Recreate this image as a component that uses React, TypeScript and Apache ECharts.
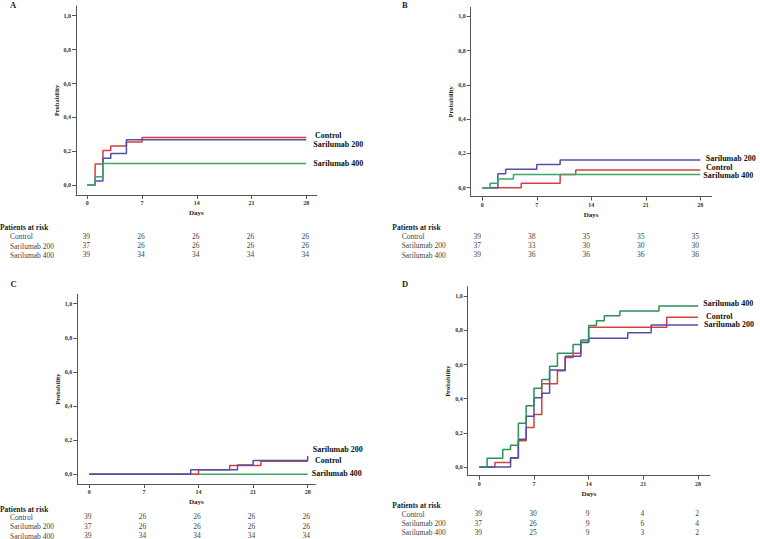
import React, { useEffect, useRef } from "react";
import * as echarts from "echarts";

const FONT = "'Liberation Serif', 'Times New Roman', serif";
const DAY_TICKS = [0, 7, 14, 21, 28];
const PROB_TICKS = [0, 0.2, 0.4, 0.6, 0.8, 1.0];
const GROUPS = ["Control", "Sarilumab 200", "Sarilumab 400"];

// ---- Panel A ----
const A_CONTROL_DAYS = [0, 1, 2, 3, 5, 7, 28];
const A_CONTROL_PROB = [0, 0.125, 0.205, 0.231, 0.256, 0.282, 0.282];
const A_S200_DAYS = [0, 1, 2, 3, 5, 28];
const A_S200_PROB = [0, 0.026, 0.16, 0.187, 0.268, 0.268];
const A_S400_DAYS = [0, 1, 2, 28];
const A_S400_PROB = [0, 0.051, 0.128, 0.128];
const A_RISK_CONTROL = [39, 26, 26, 26, 26];
const A_RISK_S200 = [37, 26, 26, 26, 26];
const A_RISK_S400 = [39, 34, 34, 34, 34];

// ---- Panel B ----
const B_CONTROL_DAYS = [0, 5, 10, 12, 28];
const B_CONTROL_PROB = [0, 0.026, 0.077, 0.103, 0.103];
const B_S200_DAYS = [0, 2, 3, 7, 10, 28];
const B_S200_PROB = [0, 0.081, 0.108, 0.135, 0.162, 0.162];
const B_S400_DAYS = [0, 1, 2, 4, 28];
const B_S400_PROB = [0, 0.026, 0.051, 0.077, 0.077];
const B_RISK_CONTROL = [39, 38, 35, 35, 35];
const B_RISK_S200 = [37, 33, 30, 30, 30];
const B_RISK_S400 = [39, 36, 36, 36, 36];

// ---- Panel C ----
const C_CONTROL_DAYS = [0, 14, 18, 22, 28];
const C_CONTROL_PROB = [0, 0.026, 0.051, 0.077, 0.077];
const C_S200_DAYS = [0, 13, 19, 21, 28];
const C_S200_PROB = [0, 0.027, 0.054, 0.081, 0.108];
const C_S400_DAYS = [0, 28];
const C_S400_PROB = [0, 0];
const C_RISK_CONTROL = [39, 26, 26, 26, 26];
const C_RISK_S200 = [37, 26, 26, 26, 26];
const C_RISK_S400 = [39, 34, 34, 34, 34];

// ---- Panel D ----
const D_CONTROL_DAYS = [0, 2, 4, 5, 6, 7, 8, 10, 11, 12, 13, 14, 24, 28];
const D_CONTROL_PROB = [0, 0.026, 0.051, 0.154, 0.231, 0.308, 0.487, 0.564, 0.641, 0.667, 0.731, 0.818, 0.878, 0.878];
const D_S200_DAYS = [0, 4, 5, 6, 7, 8, 9, 11, 13, 14, 19, 22, 28];
const D_S200_PROB = [0, 0.054, 0.162, 0.297, 0.405, 0.432, 0.568, 0.649, 0.73, 0.754, 0.787, 0.832, 0.832];
const D_S400_DAYS = [0, 1, 3, 4, 5, 6, 7, 8, 9, 10, 12, 13, 14, 15, 16, 18, 23, 28];
const D_S400_PROB = [0, 0.051, 0.103, 0.128, 0.256, 0.359, 0.462, 0.513, 0.59, 0.667, 0.718, 0.744, 0.829, 0.857, 0.886, 0.914, 0.943, 0.943];
const D_RISK_CONTROL = [39, 30, 9, 4, 2];
const D_RISK_S200 = [37, 26, 9, 6, 4];
const D_RISK_S400 = [39, 25, 9, 3, 2];

const RED = "#d4403c";
const BLUE = "#5050a8";
const GREEN = "#3aa86a";

const zip = (a: number[], b: number[]) => a.map((v, i) => [v, b[i]]);

const PANELS = [
  {
    letter: "A", letterX: 14, letterY: 5,
    left: 76, right: 316.7, d0: 87.3, d28: 306.3, top: 6, bottom: 195, y0: 185.3, y1: 15.7,
    nameGapY: 15, numOffset: -0.5,
    tableTop: 236.7, tableBottom: 255.3, patientsX: 0, patientsY: 227.3, rowX: 10,
    curves: [
      { days: A_CONTROL_DAYS, prob: A_CONTROL_PROB, color: RED },
      { days: A_S200_DAYS, prob: A_S200_PROB, color: BLUE },
      { days: A_S400_DAYS, prob: A_S400_PROB, color: GREEN },
    ],
    risk: [A_RISK_CONTROL, A_RISK_S200, A_RISK_S400],
    labels: [
      { text: GROUPS[0], x: 315, y: 135.8 },
      { text: GROUPS[1], x: 313.3, y: 144.8 },
      { text: GROUPS[2], x: 313.3, y: 163.3 },
    ],
  },
  {
    letter: "B", letterX: 406, letterY: 4.5,
    left: 470.7, right: 711.7, d0: 482.3, d28: 700.3, top: 7.3, bottom: 196.5, y0: 187.7, y1: 16.3,
    nameGapY: 16, numOffset: -4.5,
    tableTop: 236.5, tableBottom: 255.3, patientsX: 392.3, patientsY: 227.3, rowX: 401.7,
    curves: [
      { days: B_CONTROL_DAYS, prob: B_CONTROL_PROB, color: RED },
      { days: B_S200_DAYS, prob: B_S200_PROB, color: BLUE },
      { days: B_S400_DAYS, prob: B_S400_PROB, color: GREEN },
    ],
    risk: [B_RISK_CONTROL, B_RISK_S200, B_RISK_S400],
    labels: [
      { text: GROUPS[1], x: 705.7, y: 158.3 },
      { text: GROUPS[0], x: 706, y: 167.6 },
      { text: GROUPS[2], x: 703.3, y: 175.9 },
    ],
  },
  {
    letter: "C", letterX: 14.5, letterY: 284,
    left: 77.3, right: 315.5, d0: 89.3, d28: 307.7, top: 294.3, bottom: 484, y0: 474.3, y1: 303.7,
    nameGapY: 15, numOffset: -1,
    tableTop: 517.3, tableBottom: 536, patientsX: 0, patientsY: 509, rowX: 10,
    curves: [
      { days: C_S400_DAYS, prob: C_S400_PROB, color: GREEN },
      { days: C_CONTROL_DAYS, prob: C_CONTROL_PROB, color: RED },
      { days: C_S200_DAYS, prob: C_S200_PROB, color: BLUE },
    ],
    risk: [C_RISK_CONTROL, C_RISK_S200, C_RISK_S400],
    labels: [
      { text: GROUPS[1], x: 312.7, y: 449 },
      { text: GROUPS[0], x: 315, y: 460 },
      { text: GROUPS[2], x: 311.7, y: 473.3 },
    ],
  },
  {
    letter: "D", letterX: 406, letterY: 283.8,
    left: 467.7, right: 710, d0: 479.3, d28: 698, top: 286.7, bottom: 475.7, y0: 467, y1: 296.3,
    nameGapY: 16, numOffset: -0.5,
    tableTop: 514.3, tableBottom: 532.7, patientsX: 392.3, patientsY: 505.7, rowX: 401.7,
    curves: [
      { days: D_CONTROL_DAYS, prob: D_CONTROL_PROB, color: RED },
      { days: D_S200_DAYS, prob: D_S200_PROB, color: BLUE },
      { days: D_S400_DAYS, prob: D_S400_PROB, color: "#2f9059" },
    ],
    risk: [D_RISK_CONTROL, D_RISK_S200, D_RISK_S400],
    labels: [
      { text: GROUPS[2], x: 703.3, y: 303.3 },
      { text: GROUPS[0], x: 706, y: 316.2 },
      { text: GROUPS[1], x: 704, y: 324.4 },
    ],
  },
];

function buildOption() {
  const grid: any[] = [];
  const xAxis: any[] = [];
  const yAxis: any[] = [];
  const series: any[] = [];
  const graphic: any[] = [];

  PANELS.forEach((p) => {
    const ppd = (p.d28 - p.d0) / 28;
    const xmin = (p.left - p.d0) / ppd;
    const xmax = (p.right - p.d0) / ppd;
    const ppu = p.y0 - p.y1;
    const ymin = -(p.bottom - p.y0) / ppu;
    const ymax = (p.y0 - p.top) / ppu;

    const gPlot = grid.length;
    grid.push({ left: p.left, top: p.top, width: p.right - p.left, height: p.bottom - p.top, containLabel: false });
    xAxis.push({
      gridIndex: gPlot, type: "value", min: xmin, max: xmax,
      axisLine: { onZero: false, lineStyle: { color: "#555", width: 1 } },
      axisTick: { customValues: DAY_TICKS, length: 4, lineStyle: { color: "#555" } },
      axisLabel: {
        customValues: DAY_TICKS, margin: 5, fontSize: 6, fontWeight: "bold", fontFamily: FONT, color: "#333",
        formatter: (v: number) => String(Math.round(v)),
      },
      splitLine: { show: false },
      name: "Days", nameLocation: "middle", nameGap: 14.5,
      nameTextStyle: { fontSize: 7, fontWeight: "bold", fontFamily: FONT, color: "#222" },
    });
    yAxis.push({
      gridIndex: gPlot, type: "value", min: ymin, max: ymax,
      axisLine: { show: true, onZero: false, lineStyle: { color: "#555", width: 1 } },
      axisTick: { show: true, customValues: PROB_TICKS, length: 4, lineStyle: { color: "#555" } },
      axisLabel: {
        customValues: PROB_TICKS, margin: 5, fontSize: 6, fontWeight: "bold", fontFamily: FONT, color: "#333",
        formatter: (v: number) => v.toFixed(1).replace(".", ","),
      },
      splitLine: { show: false },
      name: "Probability", nameLocation: "middle", nameGap: p.nameGapY, nameRotate: 90,
      nameTextStyle: { fontSize: 6.5, fontWeight: "bold", fontFamily: FONT, color: "#222" },
    });
    p.curves.forEach((c) => {
      series.push({
        type: "line", xAxisIndex: gPlot, yAxisIndex: gPlot, step: "end", symbol: "none", silent: true,
        data: zip(c.days, c.prob), lineStyle: { color: c.color, width: 1.5 }, z: 3,
      });
    });

    const gTab = grid.length;
    grid.push({ left: p.left, top: p.tableTop, width: p.right - p.left, height: p.tableBottom - p.tableTop });
    xAxis.push({ gridIndex: gTab, type: "value", min: xmin, max: xmax, show: false });
    yAxis.push({ gridIndex: gTab, type: "value", min: 0, max: 2, inverse: true, show: false });
    p.risk.forEach((row, ri) => {
      series.push({
        type: "scatter", xAxisIndex: gTab, yAxisIndex: gTab, symbolSize: 1, silent: true,
        color: "#444",
        itemStyle: { color: "#444", opacity: 0 },
        data: DAY_TICKS.map((d, i) => [d, ri, row[i]]),
        label: {
          show: true, position: [0, 0], align: "center", verticalAlign: "middle", offset: [p.numOffset, 0],
          formatter: (q: any) => String(q.value[2]),
          fontSize: 7.5, fontFamily: FONT, color: "#444", textBorderWidth: 0, opacity: 1,
        },
      });
    });

    graphic.push({
      type: "text", left: p.letterX - 4, top: p.letterY - 4.5,
      style: { text: p.letter, font: `bold 8.5px ${FONT}`, fill: "#222" },
    });
    graphic.push({
      type: "text", x: p.patientsX, y: p.patientsY,
      style: { text: "Patients at risk", font: `bold 7.5px ${FONT}`, fill: "#222", verticalAlign: "middle" },
    });
    const rowYs = [p.tableTop, (p.tableTop + p.tableBottom) / 2, p.tableBottom];
    GROUPS.forEach((g, gi) => {
      graphic.push({
        type: "text", x: p.rowX, y: rowYs[gi],
        style: { text: g, font: `7.5px ${FONT}`, fill: "#444", verticalAlign: "middle" },
      });
    });
    p.labels.forEach((l) => {
      graphic.push({
        type: "text", x: l.x, y: l.y,
        style: { text: l.text, font: `bold 8px ${FONT}`, fill: "#111", verticalAlign: "middle" },
      });
    });
  });

  return { animation: false, backgroundColor: "#fff", grid, xAxis, yAxis, series, graphic };
}

export default function App() {
  const ref = useRef<HTMLDivElement>(null);
  useEffect(() => {
    document.body.style.margin = "0";
    const chart = echarts.init(ref.current!, null, { renderer: "svg" });
    chart.setOption(buildOption() as any);
    return () => chart.dispose();
  }, []);
  return (
    <div
      ref={ref}
      style={{ position: "absolute", left: 0, top: 0, width: 760, height: 539, opacity: 0.995 }}
    />
  );
}
